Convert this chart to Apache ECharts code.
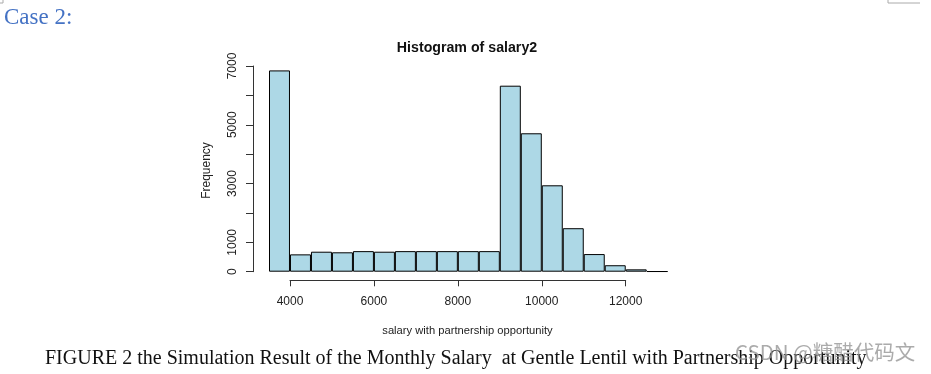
<!DOCTYPE html>
<html><head><meta charset="utf-8">
<script src="https://cdn.jsdelivr.net/npm/echarts@6/dist/echarts.min.js"></script>
<style>html,body{margin:0;padding:0;background:#fff}#c{width:931px;height:374px}</style>
</head><body><div id="c"></div>
<script>
// Histogram bins (start of each 500-wide bin) and frequencies
const binStarts = [3500,4000,4500,5000,5500,6000,6500,7000,7500,8000,8500,9000,9500,10000,10500,11000,11500,12000,12500];
const counts    = [6850,590,680,660,700,680,700,700,700,700,700,6330,4710,2940,1480,600,220,80,12];
const xTicks = [4000,6000,8000,10000,12000];
const yTicks = [0,1000,2000,3000,4000,5000,6000,7000];
const yShown = [0,1000,3000,5000,7000];

const chart = echarts.init(document.getElementById('c'), null, {renderer:'canvas'});
const axisCol = '#333';
const option = {
  animation:false,
  backgroundColor:'#fff',
  grid:[
    {left:269, right:263.3, top:66, bottom:102.3},
    {left:290, right:305.3, top:100, bottom:93.7}
  ],
  xAxis:[
    {gridIndex:0, type:'category', data:binStarts, show:false, boundaryGap:true},
    {gridIndex:1, type:'value', min:xTicks[0], max:xTicks[xTicks.length-1], interval:2000,
      axisLine:{show:true, lineStyle:{color:axisCol, width:1}},
      axisTick:{show:true, length:6, lineStyle:{color:axisCol}},
      splitLine:{show:false},
      axisLabel:{margin:15, fontFamily:'Liberation Sans', fontSize:12, color:'#222',
        formatter:v=>xTicks.includes(v)?String(v):''}}
  ],
  yAxis:[
    {gridIndex:0, type:'value', min:yTicks[0], max:yTicks[yTicks.length-1], interval:1000, offset:16,
      axisLine:{show:true, lineStyle:{color:axisCol, width:1}},
      axisTick:{show:true, length:7, lineStyle:{color:axisCol}},
      splitLine:{show:false},
      axisLabel:{rotate:90, margin:14, fontFamily:'Liberation Sans', fontSize:12, color:'#222',
        formatter:v=>yShown.includes(v)?String(v):''}},
    {gridIndex:1, type:'value', show:false}
  ],
  series:[{
    type:'bar', xAxisIndex:0, yAxisIndex:0, data:counts,
    barCategoryGap:'0%', barGap:'0%',
    itemStyle:{color:'#ADD8E6', borderColor:'#000', borderWidth:1}
  }],
  graphic:[
    {type:'text', x:467, y:48, style:{text:'Histogram of salary2', fontFamily:'Liberation Sans', fontWeight:'bold', fontSize:14.2, fill:'#111', align:'center', verticalAlign:'middle'}},
    {type:'text', x:467.5, y:331, style:{text:'salary with partnership opportunity', fontFamily:'Liberation Sans', fontSize:11.2, fill:'#222', align:'center', verticalAlign:'middle'}},
    {type:'text', x:206.5, y:170.5, rotation:Math.PI/2, style:{text:'Frequency', fontFamily:'Liberation Sans', fontSize:12, fill:'#222', align:'center', verticalAlign:'middle'}},
    {type:'text', left:4, top:6, style:{text:'Case 2:', fontFamily:'Liberation Serif', fontSize:23, fill:'#4472C4'}},
    {type:'text', left:45, top:349, style:{text:'FIGURE 2 the Simulation Result of the Monthly Salary  at Gentle Lentil with Partnership Opportunity', fontFamily:'Liberation Serif', fontSize:20, fill:'#111'}},
    {type:'text', left:735, top:342, style:{text:'CSDN @糖醋代码文', fontFamily:'Noto Sans CJK SC', fontSize:20.5, fill:'rgba(150,150,150,0.8)'}},
    {type:'polyline', shape:{points:[[888,0],[888,3],[920,3]]}, style:{stroke:'#aaa', lineWidth:1, fill:null}},
    {type:'polyline', shape:{points:[[0,3],[3,3],[3,0]]}, style:{stroke:'#aaa', lineWidth:1, fill:null}}
  ]
};
chart.setOption(option);
</script></body></html>
